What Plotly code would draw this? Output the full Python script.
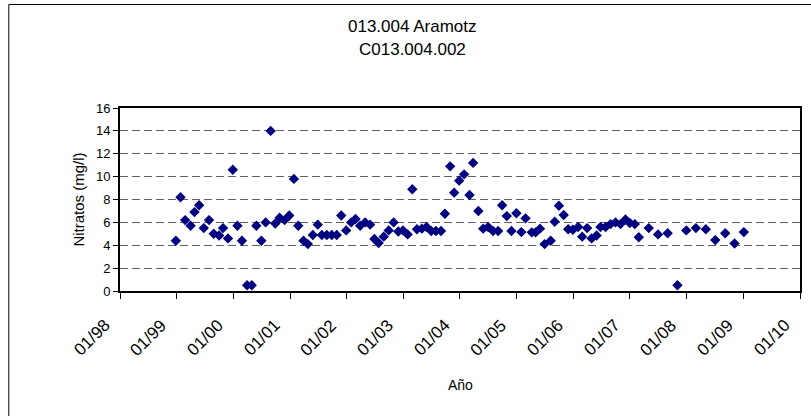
import plotly.graph_objects as go

# ---- data ----
fechas = [
    "1998-12-27", "1999-01-26", "1999-02-25", "1999-04-01", "1999-04-26", "1999-05-26",
    "1999-06-25", "1999-07-29", "1999-08-28", "1999-10-02", "1999-10-27", "1999-11-28",
    "1999-12-29", "2000-01-28", "2000-02-26", "2000-03-30", "2000-04-29", "2000-05-29",
    "2000-06-30", "2000-07-28", "2000-08-29", "2000-09-28", "2000-10-26", "2000-11-27",
    "2000-12-27", "2001-01-26", "2001-02-23", "2001-03-29", "2001-04-26", "2001-05-28",
    "2001-06-29", "2001-07-25", "2001-08-26", "2001-09-27", "2001-10-29", "2001-11-27",
    "2001-12-29", "2002-01-30", "2002-02-27", "2002-03-29", "2002-04-30", "2002-06-01",
    "2002-06-29", "2002-07-26", "2002-08-28", "2002-09-29", "2002-10-31", "2002-11-30",
    "2002-12-30", "2003-01-29", "2003-02-28", "2003-03-30", "2003-05-01", "2003-05-31",
    "2003-06-30", "2003-07-30", "2003-09-01", "2003-09-26", "2003-10-30", "2003-11-25",
    "2003-12-27", "2004-01-28", "2004-03-03", "2004-03-26", "2004-04-29", "2004-05-30",
    "2004-07-01", "2004-08-02", "2004-09-03", "2004-09-29", "2004-10-29", "2004-11-28",
    "2004-12-30", "2005-01-31", "2005-02-27", "2005-04-08", "2005-05-03", "2005-05-31",
    "2005-06-30", "2005-08-08", "2005-09-03", "2005-09-30", "2005-10-31", "2005-11-29",
    "2005-12-29", "2006-02-01", "2006-02-27", "2006-03-31", "2006-04-29", "2006-05-31",
    "2006-06-25", "2006-07-28", "2006-08-29", "2006-09-30", "2006-11-01", "2006-12-03",
    "2006-12-31", "2007-02-01", "2007-02-27", "2007-05-02", "2007-07-01", "2007-09-01",
    "2007-11-03", "2007-12-30", "2008-03-01", "2008-05-04", "2008-07-04", "2008-09-06",
    "2008-11-05", "2009-01-04",
]
nitratos = [
    4.4, 8.2, 6.2, 5.7, 6.9, 7.5,
    5.5, 6.2, 5.0, 4.85, 5.5, 4.6,
    10.6, 5.7, 4.4, 0.5, 0.5, 5.7,
    4.4, 6.0, 14.0, 5.9, 6.4, 6.2,
    6.6, 9.8, 5.7, 4.4, 4.1, 4.9,
    5.8, 4.9, 4.9, 4.9, 4.9, 6.6,
    5.3, 6.0, 6.3, 5.7, 6.0, 5.8,
    4.55, 4.2, 4.75, 5.3, 6.0, 5.2,
    5.3, 4.95, 8.9, 5.4, 5.45, 5.6,
    5.25, 5.25, 5.25, 6.75, 10.9, 8.6,
    9.65, 10.2, 8.4, 11.2, 7.0, 5.45,
    5.6, 5.25, 5.25, 7.5, 6.55, 5.25,
    6.8, 5.15, 6.35, 5.13, 5.13, 5.45,
    4.1, 4.4, 6.05, 7.45, 6.65, 5.4,
    5.35, 5.6, 4.75, 5.5, 4.6, 4.85,
    5.6, 5.6, 5.85, 6.0, 5.85, 6.25,
    5.95, 5.85, 4.7, 5.5, 4.95, 5.05,
    0.5, 5.3, 5.5, 5.4, 4.45, 5.05,
    4.15, 5.15,
]
titulo = ["013.004 Aramotz", "C013.004.002"]
eje_x_titulo = "Año"
eje_y_titulo = "Nitratos (mg/l)"
x_tick_fechas = ["1998-01-01", "1999-01-01", "2000-01-01", "2001-01-01", "2002-01-01",
                 "2003-01-01", "2004-01-01", "2005-01-01", "2006-01-01", "2007-01-01",
                 "2008-01-01", "2009-01-01", "2010-01-01"]
x_tick_textos = ["01/98", "01/99", "01/00", "01/01", "01/02", "01/03", "01/04",
                 "01/05", "01/06", "01/07", "01/08", "01/09", "01/10"]
y_ticks = [0, 2, 4, 6, 8, 10, 12, 14, 16]

FONT = "Liberation Sans, Arial, sans-serif"

fig = go.Figure()
fig.add_trace(go.Scatter(
    x=fechas, y=nitratos, mode="markers",
    marker=dict(symbol="diamond", size=8, color="#000080", line=dict(width=0)),
    showlegend=False,
))

W, H = 811, 416
ml, mr, mt, mb = 120, 9, 108, 125
pw, ph = W - ml - mr, H - mt - mb

def px_to_paper_x(px):
    return (px - ml) / pw

def px_to_paper_y(py):
    return (H - mb - py) / ph

title_anns = [
    dict(text=t, showarrow=False, xref="paper", yref="paper",
         x=px_to_paper_x(413), y=px_to_paper_y(yy),
         xanchor="center", yanchor="middle",
         font=dict(size=17, family=FONT, color="black"))
    for t, yy in zip(titulo, [27, 49])
]

xlabel_anns = [
    dict(text=txt, showarrow=False, xref="x", yref="paper",
         x=f, y=px_to_paper_y(313), xanchor="right", yanchor="top", xshift=-3,
         textangle=-45, font=dict(size=17, family=FONT, color="black"))
    for f, txt in zip(x_tick_fechas, x_tick_textos)
]

fig.update_layout(
    width=W, height=H,
    margin=dict(l=ml, r=mr, t=mt, b=mb, pad=0),
    paper_bgcolor="white", plot_bgcolor="white",
    font=dict(family=FONT, color="black", size=13),
    xaxis=dict(
        type="date", range=[x_tick_fechas[0], x_tick_fechas[-1]],
        tickvals=x_tick_fechas, showticklabels=False,
        ticks="outside", ticklen=6, tickwidth=1, tickcolor="black",
        showline=True, linecolor="black", linewidth=2, mirror=True,
        showgrid=False, zeroline=False,
    ),
    yaxis=dict(
        range=[0, 16], tickvals=y_ticks,
        ticks="outside", ticklen=5, tickwidth=1, tickcolor="black",
        showline=True, linecolor="black", linewidth=2, mirror=True,
        showgrid=True, gridcolor="#606060", gridwidth=1, griddash="8px,4px",
        zeroline=False,
        tickfont=dict(size=13, family=FONT, color="black"),
    ),
    annotations=title_anns + xlabel_anns + [
        dict(text=eje_y_titulo, textangle=-90, showarrow=False,
             xref="paper", yref="paper", x=px_to_paper_x(78), y=0.5,
             xanchor="center", yanchor="middle",
             font=dict(size=15, family=FONT, color="black")),
        dict(text=eje_x_titulo, showarrow=False,
             xref="paper", yref="paper", x=0.5, y=px_to_paper_y(385),
             xanchor="center", yanchor="middle",
             font=dict(size=14, family=FONT, color="black")),
    ],
    shapes=[
        dict(type="rect", xref="paper", yref="paper", layer="below",
             x0=px_to_paper_x(8.5), y0=px_to_paper_y(430),
             x1=px_to_paper_x(830), y1=px_to_paper_y(4.5),
             line=dict(color="black", width=1), fillcolor="rgba(0,0,0,0)"),
    ],
)

fig.write_html("out.html", config={"displayModeBar": False},
               post_script="document.body.style.margin='0';document.body.style.overflow='hidden';")
